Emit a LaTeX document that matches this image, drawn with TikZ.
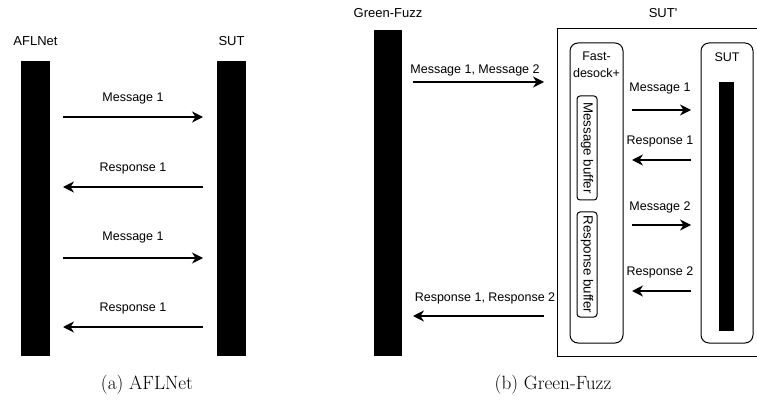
\documentclass[tikz,border=0pt]{standalone}
\usepackage{fontspec}
\setsansfont{Liberation Sans}
\usetikzlibrary{arrows.meta,positioning}
\tikzset{
  lifeline/.style={fill=black, draw=none, inner sep=0pt},
  lbl/.style={font=\sffamily\fontsize{12.5}{15}\selectfont, inner sep=0pt},
  head/.style={font=\sffamily\fontsize{13}{15}\selectfont, inner sep=0pt},
  msg/.style={line width=1.3pt, -{Stealth[length=11pt,width=11pt,inset=3.5pt]}},
  roundbox/.style={draw, line width=1pt, rounded corners=8pt, inner sep=0pt},
  buffer/.style={draw, line width=1pt, rounded corners=3pt, inner sep=0pt,
    minimum height=20pt, rotate=-90,
    font=\sffamily\fontsize{13.3}{15}\selectfont},
  caption/.style={font=\fontsize{19.2}{22}\selectfont, inner sep=0pt}
}

\begin{document}
\begin{tikzpicture}[x=1pt,y=-1pt]
  \useasboundingbox (0,0) rectangle (757,403);
  \clip (0,0) rectangle (757,403);

  % (a) AFLNet
  \node[lifeline, minimum width=29pt, minimum height=295pt] (afl) at (35.5,208.5) {};
  \node[lifeline, minimum width=29pt, minimum height=295pt] (sut) at (231.5,208.5) {};
  \node[head] (aflname) at (35.5,41) {AFLNet};
  \node[head] (sutname) at (231.5,41) {SUT};

  \coordinate (a1s) at (63,117);  \coordinate (a1e) at (203,117);
  \coordinate (a2s) at (203,187); \coordinate (a2e) at (63,187);
  \coordinate (a3s) at (63,258);  \coordinate (a3e) at (203,258);
  \coordinate (a4s) at (203,327); \coordinate (a4e) at (63,327);
  \draw[msg] (a1s) -- (a1e);
  \draw[msg] (a2s) -- (a2e);
  \draw[msg] (a3s) -- (a3e);
  \draw[msg] (a4s) -- (a4e);
  \node[lbl] (a1l) at (133,98) {Message 1};
  \node[lbl] (a2l) at (133,168) {Response 1};
  \node[lbl] (a3l) at (133,237) {Message 1};
  \node[lbl] (a4l) at (133,308) {Response 1};

  \node[caption] (capa) at (147,385) {(a) AFLNet};

  % (b) Green-Fuzz
  \node[lifeline, minimum width=28pt, minimum height=326pt] (gf) at (388,193) {};
  \node[head] (gfname) at (388,13) {Green-Fuzz};

  \node[draw, line width=1pt, inner sep=0pt, minimum width=212pt,
    minimum height=327pt] (sutp) at (663,192.5) {};
  \node[head] (sutpname) at (663,13) {SUT\textquotesingle};

  \node[roundbox, minimum width=53pt, minimum height=300pt] (fast) at (596.5,193) {};
  \node[lbl, align=center] (fastname) at (596.5,64.5) {Fast-\\[2pt]desock+};
  \node[buffer, minimum width=104pt] (msgbuf) at (587,148) {Message buffer};
  \node[buffer, minimum width=105pt] (respbuf) at (587,264.5) {Response buffer};

  \node[roundbox, minimum width=52pt, minimum height=300pt] (sutbox) at (727,193) {};
  \node[lbl] (sutboxname) at (727,57) {SUT};
  \node[lifeline, minimum width=15pt, minimum height=249pt] (sutbar) at (726.5,206.5) {};

  \coordinate (b1s) at (413,82);  \coordinate (b1e) at (544,82);
  \coordinate (b2s) at (544,316); \coordinate (b2e) at (413,316);
  \draw[msg] (b1s) -- (b1e);
  \draw[msg] (b2s) -- (b2e);
  \node[lbl] (b1l) at (475,70) {Message 1, Message 2};
  \node[lbl] (b2l) at (485,298) {Response 1, Response 2};

  \coordinate (c1s) at (632,110); \coordinate (c1e) at (691,110);
  \coordinate (c2s) at (691,160); \coordinate (c2e) at (632,160);
  \coordinate (c3s) at (632,225); \coordinate (c3e) at (691,225);
  \coordinate (c4s) at (691,291); \coordinate (c4e) at (632,291);
  \draw[msg] (c1s) -- (c1e);
  \draw[msg] (c2s) -- (c2e);
  \draw[msg] (c3s) -- (c3e);
  \draw[msg] (c4s) -- (c4e);
  \node[lbl] (c1l) at (660,88) {Message 1};
  \node[lbl] (c2l) at (660,141) {Response 1};
  \node[lbl] (c3l) at (660,207) {Message 2};
  \node[lbl] (c4l) at (660,272) {Response 2};

  \node[caption] (capb) at (553,385) {(b) Green-Fuzz};
\end{tikzpicture}
\end{document}
